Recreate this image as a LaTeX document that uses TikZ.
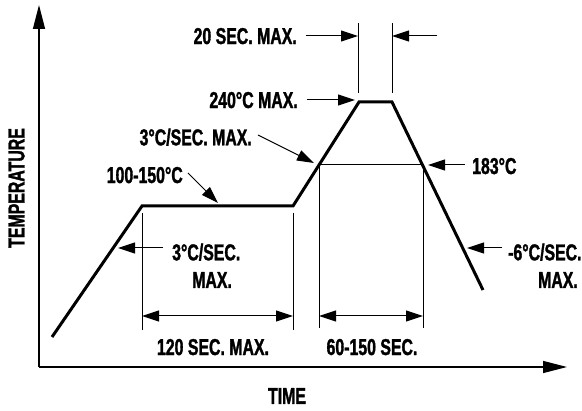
\documentclass[tikz,border=0pt]{standalone}
\usepackage{fontspec}
\newfontfamily\lblfont[FakeStretch=0.69,FakeBold=1.4]{Liberation Sans Bold}
\usetikzlibrary{arrows.meta}
\begin{document}
\begin{tikzpicture}[x=1pt,y=-1pt,
 lbl/.style={font=\lblfont\fontsize{23}{25}\selectfont, inner sep=0pt, text depth=0pt},
 axis/.style={line width=1.4pt, -{Triangle[length=24pt,width=12pt]}},
 prof/.style={line width=3pt, line join=miter},
 thin/.style={line width=1pt},
 ptr/.style={line width=1pt, -{Triangle[length=17pt,width=11pt]}},
 dimarr/.style={line width=1pt, {Triangle[length=17pt,width=11pt]}-{Triangle[length=17pt,width=11pt]}}]
\useasboundingbox[fill=white] (0,0) rectangle (582,411);
% axes
\coordinate (O) at (39,367);
\coordinate (ytop) at (39,5);
\coordinate (xend) at (567,367);
\draw[axis] (O) -- (ytop);
\draw[axis] (O) -- (xend);
% profile points
\coordinate (p0) at (52,337);
\coordinate (p1) at (142,206);
\coordinate (p2) at (293,206);
\coordinate (p3) at (319,165);
\coordinate (p4) at (359,102);
\coordinate (p5) at (392,102);
\coordinate (p6) at (423,165);
\coordinate (p7) at (483,290);
\draw[prof] (p0) -- (p1) -- (p2) -- (p4) -- (p5) -- (p7);
% 183 line and verticals
\draw[thin] (p3) -- (p6);
\coordinate (v1t) at (142,213); \coordinate (v1b) at (142,330);
\coordinate (v2t) at (293,213); \coordinate (v2b) at (293,330);
\coordinate (v3b) at (319,328);
\coordinate (v4b) at (423,328);
\draw[thin] (v1t) -- (v1b);
\draw[thin] (v2t) -- (v2b);
\draw[thin] (p3) -- (v3b);
\draw[thin] (p6) -- (v4b);
% dimension arrows
\coordinate (d1a) at (142,316); \coordinate (d1b) at (293,316);
\coordinate (d2a) at (319,316); \coordinate (d2b) at (423,316);
\draw[dimarr] (d1a) -- (d1b);
\draw[dimarr] (d2a) -- (d2b);
% 20 sec markers
\coordinate (s1t) at (358,23); \coordinate (s1b) at (358,93);
\coordinate (s2t) at (392,23); \coordinate (s2b) at (392,93);
\draw[thin] (s1t) -- (s1b);
\draw[thin] (s2t) -- (s2b);
\coordinate (a20l) at (358,36);
\coordinate (a20r) at (392,36);
\coordinate (a20s) at (437,36);
% labels
\node[lbl, anchor=east] (l20) at (297,36) {20 SEC. MAX.};
\draw[ptr] ([xshift=9pt]l20.east) -- (a20l);
\draw[ptr] (a20s) -- (a20r);
\node[lbl, anchor=east] (l240) at (298,100) {240°C MAX.};
\coordinate (t240) at (355,100);
\draw[ptr] ([xshift=9pt]l240.east) -- (t240);
\node[lbl, anchor=east] (l3a) at (252,137) {3°C/SEC. MAX.};
\coordinate (t3a) at (314,163);
\draw[ptr] ([xshift=6pt,yshift=2pt]l3a.east) -- (t3a);
\node[lbl, anchor=east] (l100) at (183,175) {100-150°C};
\coordinate (t100) at (218,203);
\draw[ptr] ([xshift=5pt,yshift=2pt]l100.east) -- (t100);
\node[lbl, anchor=west] (l183) at (472,166) {183°C};
\coordinate (t183) at (428,165);
\draw[ptr] ([xshift=-7pt,yshift=1pt]l183.west) -- (t183);
\node[lbl, anchor=west] (l3b) at (172,252) {3°C/SEC.};
\node[lbl, anchor=west] (l3bm) at (192,280) {MAX.};
\coordinate (t3b) at (118,248);
\draw[ptr] ([xshift=-9pt,yshift=4pt]l3b.west) -- (t3b);
\node[lbl, anchor=west] (l6) at (508,252) {-6°C/SEC.};
\node[lbl, anchor=east] (l6m) at (578,280) {MAX.};
\coordinate (t6) at (467,248);
\draw[ptr] ([xshift=-6pt,yshift=4pt]l6.west) -- (t6);
\node[lbl] (l120) at (213,347) {120 SEC. MAX.};
\node[lbl] (l60) at (372,347) {60-150 SEC.};
\node[lbl] (ltime) at (287,396) {TIME};
\node[lbl, rotate=90] (ltemp) at (16.5,188) {TEMPERATURE};
\end{tikzpicture}
\end{document}
